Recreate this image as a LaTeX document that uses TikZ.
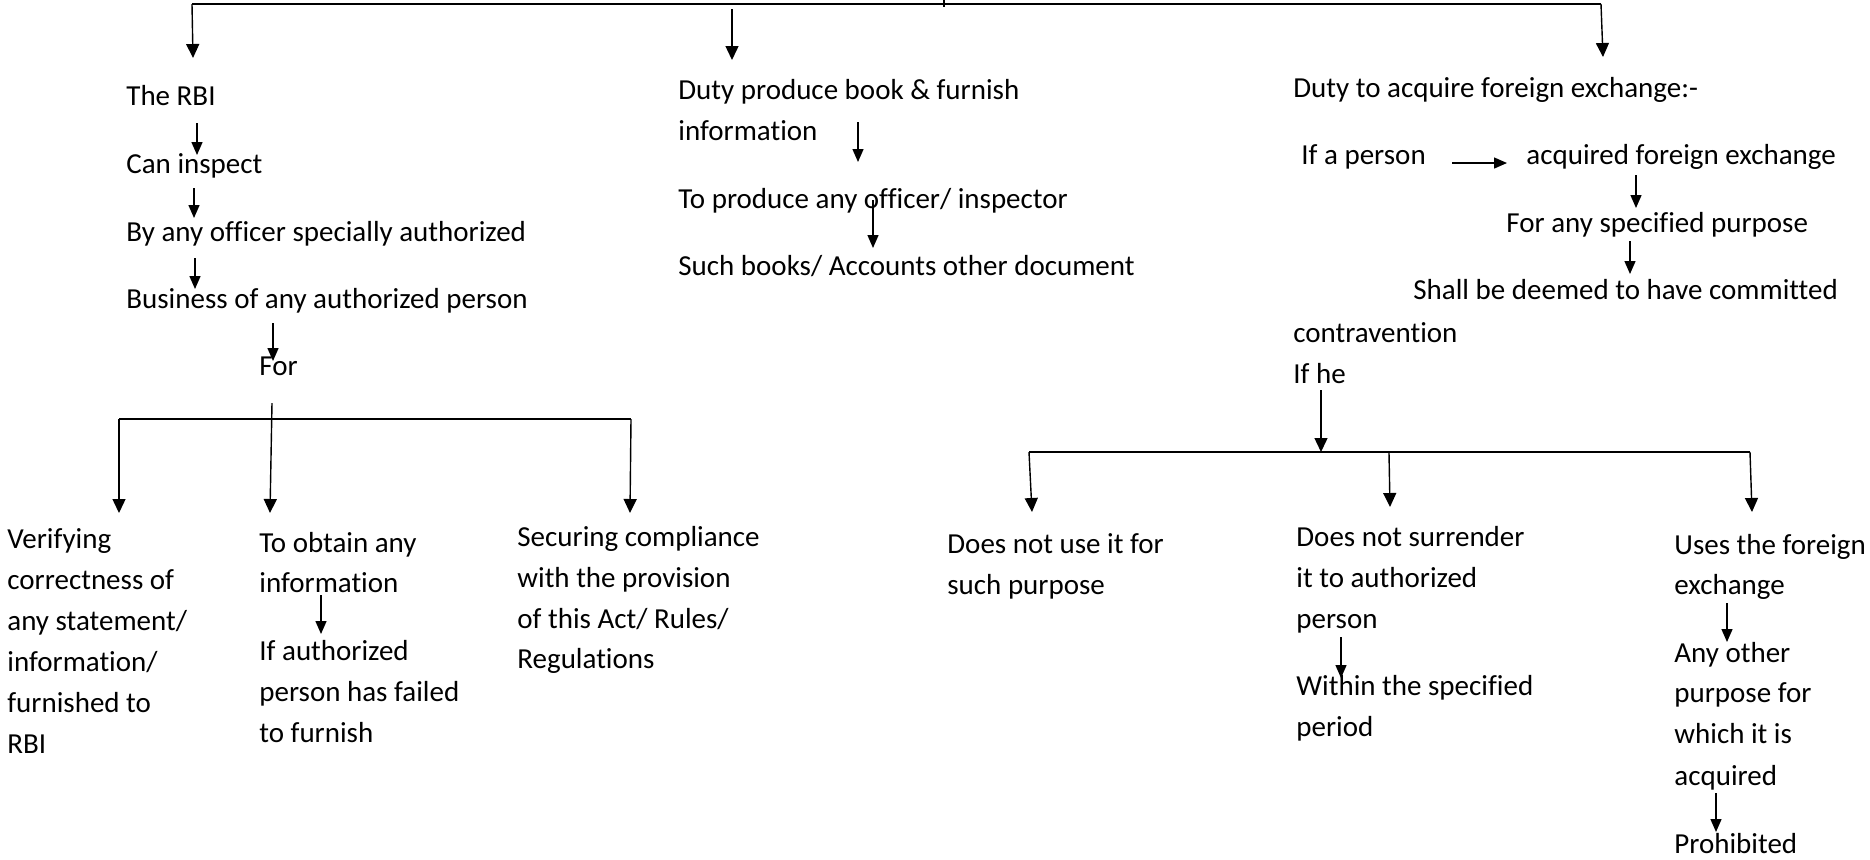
\documentclass[tikz,border=0pt]{standalone}
\usepackage{fontspec}
\setmainfont{Carlito}[Ligatures={CommonOff,ContextualOff}]
\usetikzlibrary{arrows.meta}
\begin{document}
\begin{tikzpicture}[x=0.5pt,y=-0.5pt,
  txt/.style={anchor=base west,inner sep=0pt,font=\fontsize{14.5}{17}\selectfont},
  arr/.style={line width=0.7pt,-{Triangle[length=7pt,width=6.5pt]}},
  sarr/.style={line width=0.7pt,-{Triangle[length=6.5pt,width=5.5pt]}},
  bar/.style={line width=1pt},
  stem/.style={line width=0.7pt}]
\useasboundingbox (0,0) rectangle (1870,859);

% ---------- top branch ----------
\coordinate (tl) at (192,4);
\coordinate (tr) at (1601,4);
\coordinate (tm) at (732,9);
\coordinate (ts) at (944,0);
\coordinate (tsb) at (944,7);
\draw[bar] (tl) -- (tr);
\draw[stem] (ts) -- (tsb);
\coordinate (dl) at (193,58);
\coordinate (dm) at (732,60);
\coordinate (dr) at (1603,57);
\draw[arr] (tl) -- (dl);
\draw[arr] (tm) -- (dm);
\draw[arr] (tr) -- (dr);

% ---------- left column: inspection by the RBI ----------
\node[txt] (rbi)  at (126,105) {The RBI};
\node[txt] (insp) at (126,173) {Can inspect};
\node[txt] (offc) at (126,241) {By any officer specially authorized};
\node[txt] (bus)  at (126,308) {Business of any authorized person};
\node[txt] (for)  at (259,375) {For};

\coordinate (a1s) at (197,123); \coordinate (a1e) at (197,155);
\coordinate (a2s) at (194,188); \coordinate (a2e) at (194,218);
\coordinate (a3s) at (195,258); \coordinate (a3e) at (195,289);
\coordinate (a4s) at (273,323); \coordinate (a4e) at (273,361);
\draw[sarr] (a1s) -- (a1e);
\draw[sarr] (a2s) -- (a2e);
\draw[sarr] (a3s) -- (a3e);
\draw[sarr] (a4s) -- (a4e);

% purposes of the inspection
\coordinate (fs) at (272,403); \coordinate (fe) at (270,513);
\coordinate (bl) at (119,419); \coordinate (br) at (631,419);
\coordinate (ble) at (119,513); \coordinate (bre) at (630,513);
\draw[bar] (bl) -- (br);
\draw[arr] (fs) -- (fe);
\draw[arr] (bl) -- (ble);
\draw[arr] (br) -- (bre);

\node[txt] (v1) at (7,548) {Verifying};
\node[txt] (v2) at (7,589) {correctness of};
\node[txt] (v3) at (7,630) {any statement/};
\node[txt] (v4) at (7,671) {information/};
\node[txt] (v5) at (7,712) {furnished to};
\node[txt] (v6) at (7,753) {RBI};

\node[txt] (o1) at (259,552) {To obtain any};
\node[txt] (o2) at (259,592) {information};
\node[txt] (o3) at (259,660) {If authorized};
\node[txt] (o4) at (259,701) {person has failed};
\node[txt] (o5) at (259,742) {to furnish};
\coordinate (oas) at (321,595); \coordinate (oae) at (321,634);
\draw[sarr] (oas) -- (oae);

\node[txt] (s1) at (517,546) {Securing compliance};
\node[txt] (s2) at (517,587) {with the provision};
\node[txt] (s3) at (517,628) {of this Act/ Rules/};
\node[txt] (s4) at (517,668) {Regulations};

% ---------- middle column: books and information ----------
\node[txt] (d1) at (678,99)  {Duty produce book \& furnish};
\node[txt] (d2) at (678,140) {information};
\node[txt] (d3) at (678,208) {To produce any officer/ inspector};
\node[txt] (d4) at (678,275) {Such books/ Accounts other document};
\coordinate (m1s) at (858,122); \coordinate (m1e) at (858,162);
\coordinate (m2s) at (873,200); \coordinate (m2e) at (873,248);
\draw[sarr] (m1s) -- (m1e);
\draw[sarr] (m2s) -- (m2e);

% ---------- right column: foreign exchange ----------
\node[txt] (f1) at (1293,97)  {Duty to acquire foreign exchange:-};
\node[txt] (f2) at (1301,164) {If a person};
\node[txt] (f3) at (1526,164) {acquired foreign exchange};
\node[txt] (f4) at (1506,232) {For any specified purpose};
\node[txt] (f5) at (1413,299) {Shall be deemed to have committed};
\node[txt] (f6) at (1293,342) {contravention};
\node[txt] (f7) at (1293,383) {If he};
\coordinate (hs) at (1452,163); \coordinate (he) at (1507,163);
\draw[sarr] (hs) -- (he);
\coordinate (r1s) at (1636,175); \coordinate (r1e) at (1636,208);
\coordinate (r2s) at (1630,241); \coordinate (r2e) at (1630,274);
\draw[sarr] (r1s) -- (r1e);
\draw[sarr] (r2s) -- (r2e);

% cases of contravention
\coordinate (ifs) at (1321,390); \coordinate (ife) at (1321,452);
\coordinate (cl) at (1029,452); \coordinate (cr) at (1750,452);
\coordinate (cm) at (1389,453);
\coordinate (cle) at (1032,512); \coordinate (cme) at (1390,507); \coordinate (cre) at (1752,512);
\draw[bar] (cl) -- (cr);
\draw[arr] (ifs) -- (ife);
\draw[arr] (cl) -- (cle);
\draw[arr] (cm) -- (cme);
\draw[arr] (cr) -- (cre);

\node[txt] (u1) at (947,553) {Does not use it for};
\node[txt] (u2) at (947,594) {such purpose};

\node[txt] (n1) at (1296,546) {Does not surrender};
\node[txt] (n2) at (1296,587) {it to authorized};
\node[txt] (n3) at (1296,628) {person};
\node[txt] (n4) at (1296,695) {Within the specified};
\node[txt] (n5) at (1296,736) {period};
\coordinate (nas) at (1341,637); \coordinate (nae) at (1341,678);
\draw[sarr] (nas) -- (nae);

\node[txt] (x1) at (1674,554) {Uses the foreign};
\node[txt] (x2) at (1674,594) {exchange};
\node[txt] (x3) at (1674,662) {Any other};
\node[txt] (x4) at (1674,702) {purpose for};
\node[txt] (x5) at (1674,743) {which it is};
\node[txt] (x6) at (1674,785) {acquired};
\node[txt] (x7) at (1674,853) {Prohibited};
\coordinate (x1s) at (1727,603); \coordinate (x1e) at (1727,642);
\coordinate (x2s) at (1716,793); \coordinate (x2e) at (1716,832);
\draw[sarr] (x1s) -- (x1e);
\draw[sarr] (x2s) -- (x2e);
\end{tikzpicture}
\end{document}
